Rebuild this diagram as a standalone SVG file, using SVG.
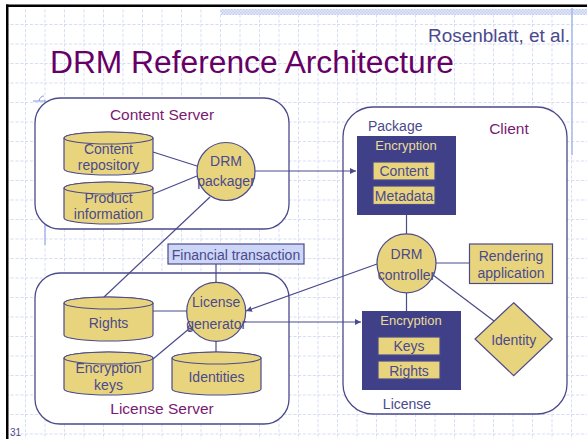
<svg xmlns="http://www.w3.org/2000/svg" width="587" height="439" viewBox="0 0 587 439">
<defs>
<pattern id="grid" patternUnits="userSpaceOnUse" x="25" y="24" width="19.5" height="19.5">
<path d="M0.5 0V19.5M0 0.5H19.5" stroke="#d3dbf5" stroke-width="1" stroke-dasharray="3 2" fill="none"/>
</pattern>
<pattern id="hatch" patternUnits="userSpaceOnUse" width="3" height="3">
<rect width="3" height="3" fill="#e6ebfb"/><rect width="1.5" height="1.5" fill="#c3cdf1"/><rect x="1.5" y="1.5" width="1.5" height="1.5" fill="#c3cdf1"/>
</pattern>
<marker id="arr" viewBox="0 0 8 8" refX="8" refY="4" markerWidth="6" markerHeight="6" orient="auto" markerUnits="userSpaceOnUse">
<path d="M0 0L8 4L0 8Z" fill="#4a4a8c"/>
</marker>
<marker id="dot" viewBox="0 0 8 8" refX="4" refY="4" markerWidth="6" markerHeight="6" orient="auto" markerUnits="userSpaceOnUse">
<circle cx="4" cy="4" r="3" fill="#e9d47e" stroke="#4a4a8c" stroke-width="1.3"/>
</marker>
</defs>
<style>
text{font-family:"Liberation Sans",Arial,sans-serif}
.n{font-size:14px;fill:#4a4a8c;text-anchor:middle}
.y{fill:#e9d47e;stroke:#4a4a8c;stroke-width:1.2}
.grp{fill:#fff;stroke:#4a4a8c;stroke-width:1.3}
.enc{fill:#404088}
.et{font-size:13px;fill:#eadc98;text-anchor:middle}
.ln{stroke:#4a4a8c;stroke-width:1.2;fill:none}
.pur{fill:#7a1a72;font-size:15.5px;text-anchor:middle}
</style>
<rect width="587" height="439" fill="#fff"/>
<rect x="8" y="7" width="579" height="432" fill="url(#grid)"/>
<rect x="221" y="9" width="366" height="6" fill="url(#hatch)"/>
<path d="M572 8V155" stroke="#a9b7ee" stroke-width="1.5"/>
<path d="M45 100V245" stroke="#a9b7ee" stroke-width="1.5"/>
<path d="M33 101H45M39 101Q40 96 44 96" stroke="#8896d8" stroke-width="1" fill="none"/>
<rect x="6" y="4.5" width="2.5" height="435" fill="#000"/>
<rect x="6" y="4.5" width="581" height="2.5" fill="#000"/>
<text x="50" y="73" font-size="31" fill="#660066" textLength="404" lengthAdjust="spacingAndGlyphs">DRM Reference Architecture</text>
<text x="428" y="42" font-size="18" fill="#4a4a8c" textLength="142" lengthAdjust="spacingAndGlyphs">Rosenblatt, et al.</text>
<text x="10" y="436" font-size="10" fill="#4a4a8c">31</text>

<g id="content-server">
<rect class="grp" x="35" y="98" width="254" height="131" rx="25"/>
<text class="pur" x="162" y="120">Content Server</text>
</g>
<g id="license-server">
<rect class="grp" x="35" y="273" width="254" height="151" rx="25"/>
<text class="pur" x="162" y="414">License Server</text>
</g>
<g id="client">
<rect class="grp" x="343" y="107" width="224" height="307" rx="30"/>
<text class="pur" x="509" y="134">Client</text>
</g>

<g id="connectors">
<path class="ln" d="M153 152L197 166"/>
<path class="ln" d="M153 194L197 176"/>
<path class="ln" d="M210 197L104 297"/>
<path class="ln" d="M255 171H356" marker-end="url(#arr)"/>
<path class="ln" d="M406.5 215V234"/>
<path class="ln" d="M436 263H469"/>
<path class="ln" d="M433 275L494 321"/>
<path class="ln" d="M406.5 293V311"/>
<path class="ln" d="M377 264L246 311" marker-end="url(#arr)"/>
<path class="ln" d="M244 322H361" marker-end="url(#arr)"/>
<path class="ln" d="M216 264V283"/>
<path class="ln" d="M153 311H187"/>
<path class="ln" d="M153 359L190 328" marker-end="url(#dot)"/>
<path class="ln" d="M216 341V352"/>
</g>

<g id="content-repository">
<path class="y" d="M64 138A44.5 6 0 0 1 153 138V169A44.5 6 0 0 1 64 169Z"/>
<ellipse class="y" cx="108.5" cy="138" rx="44.5" ry="6"/>
<text class="n" x="108.5" y="153.5">Content</text>
<text class="n" x="108.5" y="169.5">repository</text>
</g>
<g id="product-information">
<path class="y" d="M64 188A44.5 6 0 0 1 153 188V218A44.5 6 0 0 1 64 218Z"/>
<ellipse class="y" cx="108.5" cy="188" rx="44.5" ry="6"/>
<text class="n" x="108.5" y="202.5">Product</text>
<text class="n" x="108.5" y="218.5">information</text>
</g>
<g id="drm-packager">
<circle class="y" cx="226" cy="171.5" r="29"/>
<text class="n" x="226" y="166">DRM</text>
<text class="n" x="226" y="186">packager</text>
</g>
<g id="rights-db">
<path class="y" d="M64 303A44.5 6 0 0 1 153 303V335A44.5 6 0 0 1 64 335Z"/>
<ellipse class="y" cx="108.5" cy="303" rx="44.5" ry="6"/>
<text class="n" x="108.5" y="327.5">Rights</text>
</g>
<g id="encryption-keys">
<path class="y" d="M64 358A44.5 6 0 0 1 153 358V389A44.5 6 0 0 1 64 389Z"/>
<ellipse class="y" cx="108.5" cy="358" rx="44.5" ry="6"/>
<text class="n" x="108.5" y="373">Encryption</text>
<text class="n" x="108.5" y="389.5">keys</text>
</g>
<g id="identities">
<path class="y" d="M172 358A44.5 6 0 0 1 261 358V389A44.5 6 0 0 1 172 389Z"/>
<ellipse class="y" cx="216.5" cy="358" rx="44.5" ry="6"/>
<text class="n" x="216.5" y="382">Identities</text>
</g>
<g id="license-generator">
<circle class="y" cx="216.2" cy="311.8" r="29.5"/>
<text class="n" x="216.2" y="307">License</text>
<text class="n" x="216.2" y="328.5">generator</text>
</g>
<g id="financial-transaction">
<rect x="168" y="244" width="136" height="20" fill="#cdd6f7" stroke="#4a4a8c" stroke-width="1.2"/>
<text class="n" x="236" y="259.5">Financial transaction</text>
</g>
<g id="package">
<text x="368" y="131" font-size="14" fill="#4a4a8c">Package</text>
<rect class="enc" x="357" y="136" width="99" height="79"/>
<text class="et" x="406" y="149.5">Encryption</text>
<rect class="y" x="373" y="162" width="62" height="18" stroke-width="0.6"/>
<text class="n" x="404" y="176">Content</text>
<rect class="y" x="373" y="186" width="62" height="18.5" stroke-width="0.6"/>
<text class="n" x="404" y="200.5">Metadata</text>
</g>
<g id="drm-controller">
<circle class="y" cx="406.5" cy="263.3" r="29.5"/>
<text class="n" x="406.5" y="258.5">DRM</text>
<text class="n" x="406.5" y="279.5">controller</text>
</g>
<g id="rendering-application">
<rect class="y" x="469.5" y="244" width="83" height="39.5"/>
<text class="n" x="511" y="261">Rendering</text>
<text class="n" x="511" y="278">application</text>
</g>
<g id="identity">
<polygon class="y" points="513.7,302.7 552.3,339 513.7,375.7 475,339"/>
<text class="n" x="513.7" y="345">Identity</text>
</g>
<g id="license">
<rect class="enc" x="362" y="311" width="99" height="79"/>
<text class="et" x="411" y="324.5">Encryption</text>
<rect class="y" x="378" y="337" width="62" height="18" stroke-width="0.6"/>
<text class="n" x="409" y="351">Keys</text>
<rect class="y" x="378" y="361" width="62" height="18" stroke-width="0.6"/>
<text class="n" x="409" y="375.5">Rights</text>
<text x="407" y="408.5" font-size="14" fill="#4a4a8c" text-anchor="middle">License</text>
</g>
</svg>
